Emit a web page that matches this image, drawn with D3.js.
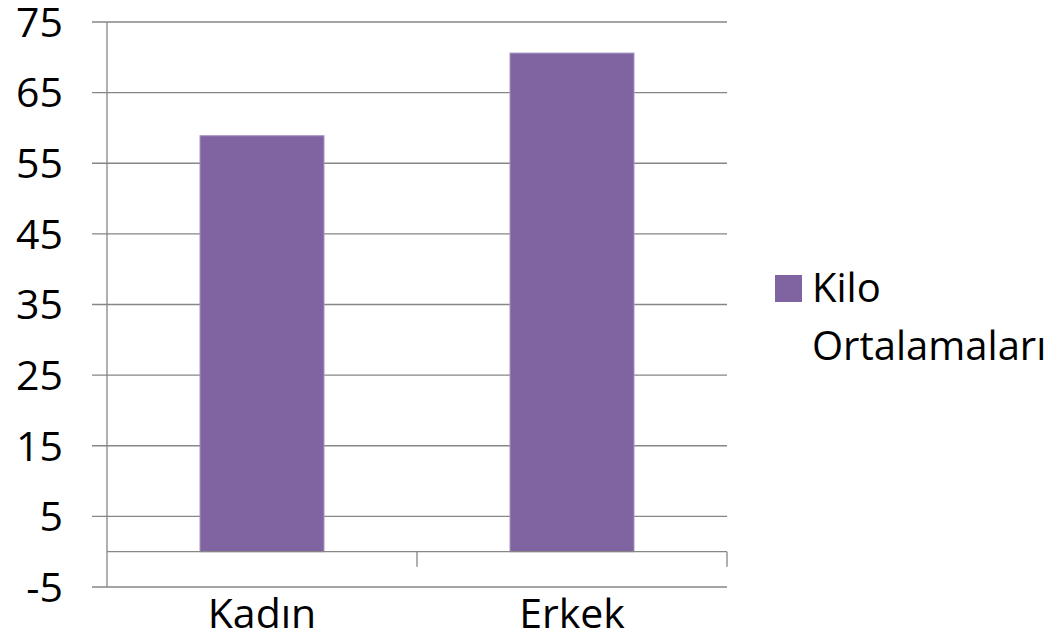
<!DOCTYPE html>
<html>
<head>
<meta charset="utf-8">
<script src="https://cdn.jsdelivr.net/npm/d3@7"></script>
<style>
  body { margin: 0; background: #fff; }
  text { font-family: 'Open Sans', sans-serif; fill: #000; }
</style>
</head>
<body>
<svg id="chart" width="1061" height="638"></svg>
<script>
const categories = ['Kadın', 'Erkek']
const kiloOrtalamalari = [58.9, 70.6]
const yTicks = [-5, 5, 15, 25, 35, 45, 55, 65, 75]
const legendLines = ['Kilo', 'Ortalamaları']

const svg = d3.select('#chart')
const plotLeft = 107, plotRight = 727, plotTop = 22, plotBottom = 587
const gridColor = '#868686'
const barColor = '#8064a2'

const y = d3.scaleLinear().domain([-5, 75]).range([plotBottom, plotTop])
const x = d3.scaleBand().domain(categories).range([plotLeft, plotRight])
  .paddingInner(0.6).paddingOuter(0.3)

// gridlines + y tick marks
svg.append('g').selectAll('line').data(yTicks).enter()
  .append('line')
  .attr('x1', plotLeft - 15).attr('x2', plotRight)
  .attr('y1', d => y(d)).attr('y2', d => y(d))
  .attr('stroke', gridColor).attr('stroke-width', 1.3)

// y labels
svg.append('g').selectAll('text').data(yTicks).enter()
  .append('text')
  .attr('x', 63)
  .attr('y', d => y(d))
  .attr('dy', '0.36em')
  .attr('text-anchor', 'end')
  .attr('font-size', 41)
  .text(d => d)

// bars
svg.append('g').selectAll('rect').data(categories).enter()
  .append('rect')
  .attr('x', d => x(d))
  .attr('width', x.bandwidth())
  .attr('y', (d, i) => y(kiloOrtalamalari[i]))
  .attr('height', (d, i) => y(0) - y(kiloOrtalamalari[i]))
  .attr('fill', barColor)
  .attr('stroke', '#a793c0').attr('stroke-width', 1)

// y axis line
svg.append('line')
  .attr('x1', plotLeft).attr('x2', plotLeft).attr('y1', plotTop).attr('y2', plotBottom)
  .attr('stroke', gridColor).attr('stroke-width', 1.3)

// category axis at zero
svg.append('line')
  .attr('x1', plotLeft).attr('x2', plotRight).attr('y1', y(0)).attr('y2', y(0))
  .attr('stroke', gridColor).attr('stroke-width', 1.3)

const step = x.step()
const bounds = categories.map((d, i) => plotLeft + (i + 1) * step)
svg.append('g').selectAll('line').data(bounds).enter()
  .append('line')
  .attr('x1', d => d).attr('x2', d => d)
  .attr('y1', y(0)).attr('y2', y(0) + 15)
  .attr('stroke', gridColor).attr('stroke-width', 1.3)

// category labels
svg.append('g').selectAll('text').data(categories).enter()
  .append('text')
  .attr('x', d => x(d) + x.bandwidth() / 2)
  .attr('y', 628)
  .attr('text-anchor', 'middle')
  .attr('font-size', 41)
  .text(d => d)

// legend
const legend = svg.append('g')
legend.append('rect')
  .attr('x', 775).attr('y', 275).attr('width', 27).attr('height', 27)
  .attr('fill', barColor)
legend.selectAll('text').data(legendLines).enter()
  .append('text')
  .attr('x', 812)
  .attr('y', (d, i) => 302 + i * 58)
  .attr('font-size', 40)
  .text(d => d)
</script>
</body>
</html>
